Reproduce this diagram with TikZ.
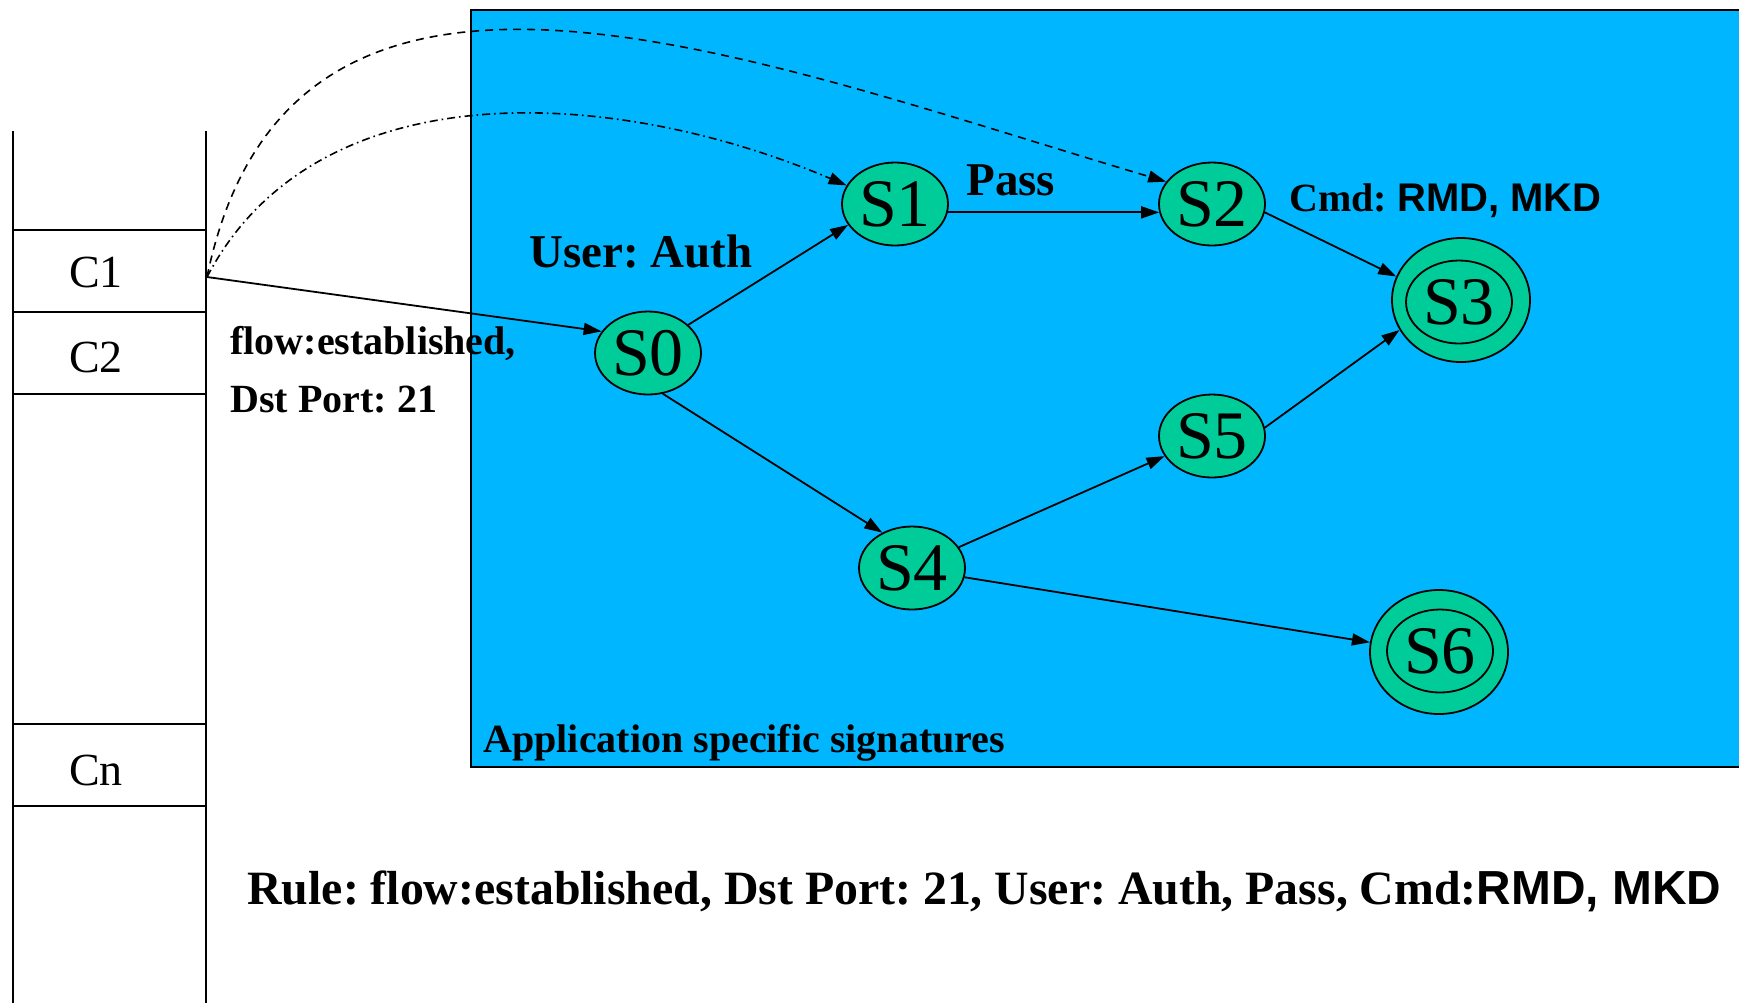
\documentclass[tikz,border=0pt]{standalone}
\usepackage{fontspec}
\setmainfont{Liberation Serif}
\newfontfamily\sansf{Liberation Sans}
\usetikzlibrary{shapes.geometric,arrows.meta}
\definecolor{bgblue}{RGB}{0,183,255}
\definecolor{stgreen}{RGB}{0,204,153}
\frenchspacing
\begin{document}
\begin{tikzpicture}[x=0.5pt,y=-0.5pt,
  state/.style={ellipse,draw=black,line width=0.9pt,fill=stgreen,inner sep=0pt,
    minimum width=53pt,minimum height=41.5pt,font=\fontsize{34}{40}\selectfont},
  finalouter/.style={ellipse,draw=black,line width=0.9pt,fill=stgreen,inner sep=0pt,
    minimum width=69pt,minimum height=62pt},
  finalinner/.style={ellipse,draw=black,line width=0.9pt,inner sep=0pt,
    minimum width=53pt,minimum height=41.5pt,font=\fontsize{34}{40}\selectfont},
  edge/.style={line width=0.9pt,-{Triangle[length=9pt,width=6pt]}},
  dashedge/.style={line width=0.8pt,dash pattern=on 4pt off 3pt,-{Triangle[length=9pt,width=6pt]}},
  dotedge/.style={line width=0.8pt,dash pattern=on 4pt off 2pt on 0.8pt off 2pt,-{Triangle[length=9pt,width=6pt]}},
  lbl/.style={anchor=base west,inner sep=0pt,font=\bfseries\fontsize{20}{24}\selectfont},
  biglbl/.style={anchor=base west,inner sep=0pt,font=\bfseries\fontsize{23.5}{28}\selectfont},
  cell/.style={anchor=base,inner sep=0pt,font=\fontsize{23}{28}\selectfont},
  tline/.style={line width=0.9pt}
]
\useasboundingbox (0,0) rectangle (1739,1003);
\fill[white] (0,0) rectangle (1739,1003);

% application box
\fill[bgblue] (471,10) rectangle (1739,767);
\draw[line width=1pt] (1739,10) -- (471,10) -- (471,767) -- (1739,767);

% connection table
\draw[tline] (13,131) -- (13,1003);
\draw[tline] (206,131) -- (206,1003);
\foreach \yy in {230,312,394,724,806} \draw[tline] (13,\yy) -- (206,\yy);
\node[cell] (c1) at (96,287) {C1};
\node[cell] (c2) at (96,372) {C2};
\node[cell] (cn) at (96,785) {Cn};
\coordinate (c1out) at (207,277);

% states
\node[state] (S0) at (648,353) {S0};
\node[state] (S1) at (895,204) {S1};
\node[state] (S2) at (1212,204) {S2};
\node[finalouter] (S3) at (1461,300) {};
\node[finalinner] (S3in) at (1459,302) {S3};
\node[state] (S5) at (1212,436) {S5};
\node[state] (S4) at (912,568) {S4};
\node[finalouter] (S6) at (1439,652) {};
\node[finalinner] (S6in) at (1440,651) {S6};

% labels
\node[biglbl] (luser) at (529,267) {User: Auth};
\node[biglbl] (lpass) at (966,195) {Pass};
\node[lbl] (lcmd) at (1289,211) {Cmd: {\sansf RMD, MKD}};
\node[lbl] (lflow) at (230,354) {flow:established,};
\node[lbl] (lport) at (230,412) {Dst Port: 21};
\node[lbl] (lapp) at (483,752) {Application specific signatures};
\node[anchor=base west,inner sep=0pt,font=\bfseries\fontsize{23.9}{28}\selectfont] (lrule) at (247,904)
  {Rule: flow:established, Dst Port: 21, User: Auth, Pass, Cmd:{\sansf RMD, MKD}};

% edges
\draw[edge] (c1out) -- (S0.155);
\draw[edge] (S0.35) -- (S1.-156);
\draw[edge] (S0.-70) -- (S4.130);
\draw[edge] (S1.-9) -- (S2.-171);
\draw[edge] (S2.-9) -- (S3.160);
\draw[edge] (S5.9) -- (S3.-154);
\draw[edge] (S4.24) -- (S5.-157);
\draw[edge] (S4.-10) -- (S6.172);
\draw[dashedge] (c1out) .. controls (290,-125) and (740,55) .. (S2.154);
\draw[dotedge] (c1out) .. controls (315,70) and (610,85) .. (S1.159);
\end{tikzpicture}
\end{document}
